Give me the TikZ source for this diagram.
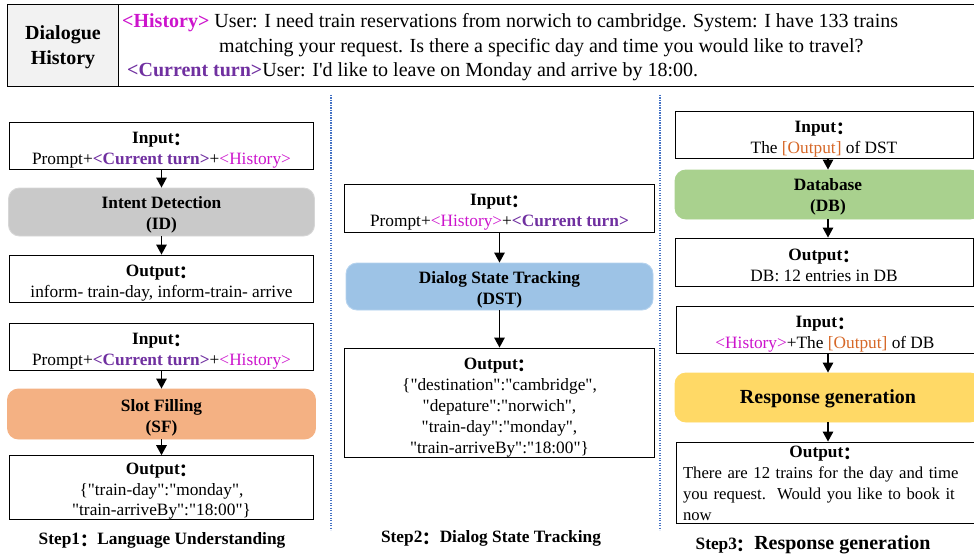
\documentclass[tikz,border=0pt]{standalone}
\usepackage{fontspec}
\setmainfont{Liberation Serif}[Ligatures=TeXOff]
\newfontfamily\cjk{Noto Sans CJK SC}
\usetikzlibrary{arrows.meta}
\definecolor{histc}{RGB}{204,20,204}
\definecolor{curc}{RGB}{112,48,160}
\definecolor{outc}{RGB}{214,104,40}
\definecolor{sepc}{RGB}{68,114,196}
\definecolor{hdrgray}{RGB}{242,242,242}
\definecolor{idfill}{RGB}{201,201,201}
\definecolor{iddraw}{RGB}{214,214,214}
\definecolor{sffill}{RGB}{244,177,131}
\definecolor{dstfill}{RGB}{157,195,230}
\definecolor{dstdraw}{RGB}{180,210,238}
\definecolor{dbfill}{RGB}{169,209,142}
\definecolor{rgfill}{RGB}{255,217,102}
\newcommand{\qcol}{\smash{\raisebox{-2pt}{\cjk\bfseries ：}}}
\newcommand{\tagHist}{{\color{histc}<History>}}
\newcommand{\tagCur}{{\bfseries\color{curc}<Current turn>}}
\newcommand{\tagOut}{{\color{outc}[Output]}}
\newcommand{\colfont}{\fontsize{17.3}{21}\selectfont}
\newcommand{\hdrfont}{\fontsize{20}{25}\selectfont}
\newcommand{\up}[1][20.5pt]{\rule{0pt}{#1}}
\begin{document}
\begin{tikzpicture}[x=1pt,y=-1pt,
  box/.style={draw=black, line width=0.9pt, inner sep=0pt, align=center, font=\colfont},
  proc/.style={rounded corners=11pt, line width=0.9pt, inner sep=0pt, align=center, font=\colfont\bfseries},
  arr/.style={-{Triangle[length=10pt,width=10.5pt]}, line width=1.4pt},
  sep/.style={draw=sepc, dash pattern=on 1.2pt off 1.3pt, line width=1.1pt},
  steplabel/.style={inner sep=0pt, font=\colfont\bfseries},
  hdrtext/.style={inner sep=0pt, anchor=base west, font=\hdrfont}]
\useasboundingbox (0,0) rectangle (974,559);
\clip (0,0) rectangle (974,559);

% header
\node[draw, line width=1pt, fill=hdrgray, minimum width=111, minimum height=82, inner sep=0pt,
      anchor=north west, align=center, font=\hdrfont\bfseries] (dh) at (7,4) {\up[18pt]Dialogue\\History};
\node[draw, line width=1pt, minimum width=870, minimum height=82, inner sep=0pt, anchor=north west] (dt) at (118,4) {};
\node[hdrtext] (l1) at (122,27.5) {{\bfseries\tagHist} User: I need train reservations from norwich to cambridge. System: I have 133 trains};
\node[hdrtext] (l2) at (219,52.3) {matching your request. Is there a specific day and time you would like to travel?};
\node[hdrtext] (l3) at (127,76.5) {\tagCur User: I'd like to leave on Monday and arrive by 18:00.};

% separators
\draw[sep] (331,95) -- (331,530);
\draw[sep] (660,95) -- (660,530);

% column 1
\node[box, minimum width=304, minimum height=47] (in1) at (161.5,145.5) {\up\textbf{Input\qcol}\\Prompt+\tagCur+\tagHist};
\node[proc, fill=idfill, draw=iddraw, minimum width=306, minimum height=48] (id) at (161.5,212) {\up[18.5pt]Intent Detection\\(ID)};
\node[box, minimum width=304, minimum height=47] (out1) at (161.5,278.5) {\up\textbf{Output\qcol}\\inform- train-day, inform-train- arrive};
\node[box, minimum width=304, minimum height=47] (in2) at (161.5,346.5) {\up\textbf{Input\qcol}\\Prompt+\tagCur+\tagHist};
\node[proc, fill=sffill, draw=sffill, minimum width=308, minimum height=50] (sf) at (161.5,414) {\up[19.5pt]Slot Filling\\(SF)};
\node[box, minimum width=304, minimum height=63, font=\fontsize{17.3}{20.5}\selectfont] (out2) at (161.5,487.5) {\up[19pt]\textbf{Output\qcol}\\\{"train-day":"monday",\\"train-arriveBy":"18:00"\}};
\node[steplabel] (s1) at (162,540) {Step1\qcol Language Understanding};
\draw[arr] (in1) -- (id);
\draw[arr] (id) -- (out1);
\draw[arr] (in2) -- (sf);
\draw[arr] (sf) -- (out2);

% column 2
\node[box, minimum width=310, minimum height=48] (in3) at (499.5,208) {\up\textbf{Input\qcol}\\Prompt+\tagHist+\tagCur};
\node[proc, fill=dstfill, draw=dstdraw, minimum width=307, minimum height=47] (dst) at (499.5,286.5) {\up[18.5pt]Dialog State Tracking\\(DST)};
\node[box, minimum width=310, minimum height=109] (out3) at (499.5,402.5) {\up[21pt]\textbf{Output\qcol}\\\{"destination":"cambridge",\\"depature":"norwich",\\"train-day":"monday",\\"train-arriveBy":"18:00"\}};
\node[steplabel] (s2) at (491,538) {Step2\qcol Dialog State Tracking};
\draw[arr] (in3) -- (dst);
\draw[arr] (dst) -- (out3);

% column 3
\node[box, minimum width=298, minimum height=47] (in4) at (824,134.5) {\up\textbf{Input\qcol}\\The \tagOut{} of DST};
\node[proc, fill=dbfill, draw=dbfill, minimum width=306, minimum height=49] (db) at (828,194.5) {\up[17.5pt]Database\\(DB)};
\node[box, minimum width=298, minimum height=48] (out4) at (824,262) {\up[18.5pt]\textbf{Output\qcol}\\DB: 12 entries in DB};
\node[box, minimum width=298, minimum height=47] (in5) at (825,329.5) {\up\textbf{Input\qcol}\\\tagHist+The \tagOut{} of DB};
\node[proc, fill=rgfill, draw=rgfill, minimum width=306, minimum height=49, font=\fontsize{20}{24}\selectfont\bfseries] (rg) at (828,397.5) {\up[17pt]Response generation};
\node[box, minimum width=298, minimum height=81, text width=284, align=left, font=\fontsize{16.7}{21}\selectfont] (out5) at (825,482.5) {\makebox[\linewidth]{\fontsize{17.3}{21}\selectfont\up[13.5pt]\textbf{Output\qcol}}\\There are 12 trains for the day and time\\you request.\ \ Would you like to book it\\now};
\node[steplabel] (s3) at (813,545) {Step3\qcol{\fontsize{20}{24}\selectfont Response generation}};
\draw[arr] (db.north |- in4.south) -- (db.north);
\draw[arr] (db.south) -- (db.south |- out4.north);
\draw[arr] (rg.north |- in5.south) -- (rg.north);
\draw[arr] (rg.south) -- (rg.south |- out5.north);
\end{tikzpicture}
\end{document}
